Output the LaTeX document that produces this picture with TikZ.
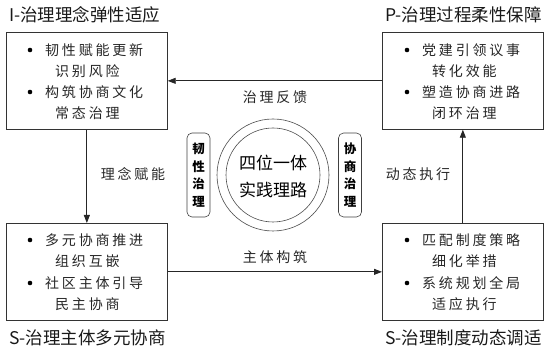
\documentclass[tikz,border=0pt]{standalone}
\usepackage{fontspec}
\setmainfont{Noto Sans CJK SC}
\newfontfamily\widecjk[LetterSpace=20]{Noto Sans CJK SC}
\usetikzlibrary{arrows.meta}
\begin{document}
\begin{tikzpicture}[x=1pt,y=-1pt,
  box/.style={draw=black!80, line width=0.7pt, minimum width=161pt, minimum height=97pt, inner sep=0pt, anchor=north west},
  txt/.style={font=\widecjk\fontsize{14}{14}\selectfont, anchor=west, inner sep=0pt, text=black!85},
  lbl/.style={font=\widecjk\fontsize{14}{14}\selectfont, inner sep=0pt, text=black!85},
  ttl/.style={font=\fontsize{17.5}{17.5}\selectfont, anchor=west, inner sep=0pt, text=black!90},
  dotb/.style={circle, fill=black, inner sep=0pt, minimum size=4.6pt},
  side/.style={draw=black!75, line width=0.6pt, rounded corners=5pt, minimum width=23pt, minimum height=84pt, inner sep=0pt, align=center, font=\bfseries\fontsize{12.5}{17.5}\selectfont},
  ring/.style={draw=black!70, line width=0.6pt, circle, inner sep=0pt},
  arr/.style={draw=black!85, line width=0.8pt, -{Triangle[length=8pt,width=6pt]}}
]
\useasboundingbox (0,0) rectangle (550,355);
% titles
\node[ttl] (t1) at (9,15) {I-治理理念弹性适应};
\node[ttl] (t2) at (385,15) {P-治理过程柔性保障};
\node[ttl] (t3) at (9,338) {S-治理主体多元协商};
\node[ttl] (t4) at (385,338) {S-治理制度动态调适};
% boxes
\node[box] (b1) at (6,32) {};
\node[box] (b2) at (382,32) {};
\node[box] (b3) at (6,223) {};
\node[box] (b4) at (382,223) {};
% box 1 text
\node[dotb] (d1a) at (30,50) {};
\node[txt] (x1a) at (45,50) {韧性赋能更新};
\node[txt] (x1b) at (55,71) {识别风险};
\node[dotb] (d1c) at (30,92) {};
\node[txt] (x1c) at (45,92) {构筑协商文化};
\node[txt] (x1d) at (55,113) {常态治理};
% box 2 text
\node[dotb] (d2a) at (407,50) {};
\node[txt] (x2a) at (422,50) {党建引领议事};
\node[txt] (x2b) at (432,71) {转化效能};
\node[dotb] (d2c) at (407,92) {};
\node[txt] (x2c) at (422,92) {塑造协商进路};
\node[txt] (x2d) at (432,113) {闭环治理};
% box 3 text
\node[dotb] (d3a) at (30,240) {};
\node[txt] (x3a) at (45,240) {多元协商推进};
\node[txt] (x3b) at (55,261) {组织互嵌};
\node[dotb] (d3c) at (30,283) {};
\node[txt] (x3c) at (45,283) {社区主体引导};
\node[txt] (x3d) at (55,304) {民主协商};
% box 4 text
\node[dotb] (d4a) at (407,240) {};
\node[txt] (x4a) at (422,240) {匹配制度策略};
\node[txt] (x4b) at (432,261) {细化举措};
\node[dotb] (d4c) at (407,283) {};
\node[txt] (x4c) at (422,283) {系统规划全局};
\node[txt] (x4d) at (432,304) {适应执行};
% connectors
\draw[arr] (b2.west) -- (b1.east);
\draw[arr] (b1.south) -- (b3.north);
\draw[arr] (b3.east) -- (b4.west);
\draw[arr] (b4.north) -- (b2.south);
% connector labels
\node[lbl] (l1) at (275,97) {治理反馈};
\node[lbl] (l2) at (133,174) {理念赋能};
\node[lbl] (l3) at (275,257) {主体构筑};
\node[lbl] (l4) at (418,174) {动态执行};
% centre
\node[ring, minimum size=112pt] (c1) at (273,175) {};
\node[ring, minimum size=94pt] (c2) at (273,175) {};
\node[inner sep=0pt, font=\fontsize{17}{27}\selectfont, align=center] (ct) at (273,176.5) {四位一体\\实践理路};
\node[side] (s1) at (198.5,175) {韧\\性\\治\\理};
\node[side] (s2) at (350,175) {协\\商\\治\\理};
\end{tikzpicture}
\end{document}
